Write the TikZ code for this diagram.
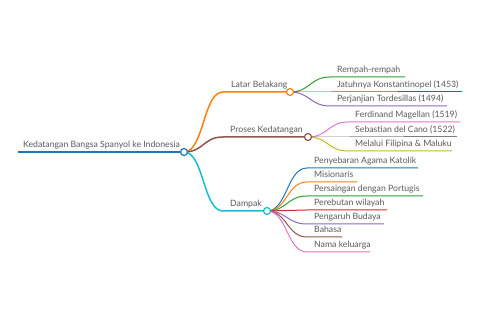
\documentclass[tikz,border=0pt]{standalone}
\usepackage{fontspec}
\setmainfont{Lato}
\usepackage{tikz}
\usetikzlibrary{backgrounds,calc}
\definecolor{cat0}{HTML}{1F77B4}
\definecolor{cat1}{HTML}{FF7F0E}
\definecolor{cat2}{HTML}{2CA02C}
\definecolor{cat3}{HTML}{D62728}
\definecolor{cat4}{HTML}{9467BD}
\definecolor{cat5}{HTML}{8C564B}
\definecolor{cat6}{HTML}{E377C2}
\definecolor{cat7}{HTML}{7F7F7F}
\definecolor{cat8}{HTML}{BCBD22}
\definecolor{cat9}{HTML}{17BECF}
\definecolor{txt}{HTML}{5A5A5A}
\tikzset{
  lbl/.style={font=\fontsize{8.7}{10}\selectfont, text=txt, inner sep=0pt, anchor=base west},
  knot/.style={circle, draw=#1, fill=white, line width=1.2pt, minimum size=7pt, inner sep=0pt},
  stem/.style={draw=#1, line width=1pt},
}
% leaf: name, parent, x start, x end, y, colour, text
\newcommand{\twig}[7]{%
  \coordinate (#1) at (#3,#5);
  \coordinate (#1-end) at (#4,#5);
  \node[lbl] (#1-t) at ([shift={(7,-4)}]#1) {#7};
  \draw[stem=#6] (#2) .. controls +(20,0) and +(-20,0) .. (#1) -- (#1-end);
}

\begin{document}
\begin{tikzpicture}[x=1pt,y=-1pt]
  \useasboundingbox (0,0) rectangle (480,320);
  % root
  \coordinate (root-s) at (18,152);
  \coordinate (root) at (184,152);
  \node[lbl] (root-t) at ([shift={(5,-4)}]root-s) {Kedatangan Bangsa Spanyol ke Indonesia};
  \draw[stem=cat0, line width=2pt] (root-s) -- (root);
  % main branches
  \coordinate (lb-s) at (223,92);   \coordinate (lb) at (290,92);
  \coordinate (pk-s) at (223,137);  \coordinate (pk) at (308,137);
  \coordinate (dp-s) at (223,211);  \coordinate (dp) at (267,211);
  \node[lbl] (lb-t) at ([shift={(8,-4)}]lb-s) {Latar Belakang};
  \node[lbl] (pk-t) at ([shift={(7,-4)}]pk-s) {Proses Kedatangan};
  \node[lbl] (dp-t) at ([shift={(7,-4)}]dp-s) {Dampak};
  \draw[stem=cat1, line width=1.5pt] (root) .. controls +(20,0) and +(-20,0) .. (lb-s) -- (lb);
  \draw[stem=cat5, line width=1.5pt] (root) .. controls +(20,0) and +(-20,0) .. (pk-s) -- (pk);
  \draw[stem=cat9, line width=1.5pt] (root) .. controls +(20,0) and +(-20,0) .. (dp-s) -- (dp);
  % Latar Belakang
  \twig{rr}{lb}{330}{405}{77}{cat2}{Rempah-rempah}
  \twig{jk}{lb}{330}{462}{92}{cat3}{Jatuhnya Konstantinopel (1453)}
  \twig{pt}{lb}{330}{447}{106}{cat4}{Perjanjian Tordesillas (1494)}
  % Proses Kedatangan
  \twig{fm}{pk}{348}{460}{122}{cat6}{Ferdinand Magellan (1519)}
  \twig{sc}{pk}{348}{457}{137}{cat7}{Sebastian del Cano (1522)}
  \twig{fl}{pk}{348}{452}{151}{cat8}{Melalui Filipina \& Maluku}
  % Dampak
  \twig{ak}{dp}{307}{418}{168}{cat0}{Penyebaran Agama Katolik}
  \twig{ms}{dp}{307}{357}{182}{cat1}{Misionaris}
  \twig{pp}{dp}{307}{423}{196}{cat2}{Persaingan dengan Portugis}
  \twig{pw}{dp}{307}{387}{210}{cat3}{Perebutan wilayah}
  \twig{pb}{dp}{307}{384}{224}{cat4}{Pengaruh Budaya}
  \twig{bh}{dp}{307}{342}{237}{cat5}{Bahasa}
  \twig{nk}{dp}{307}{370}{252}{cat6}{Nama keluarga}
  % circles on top
  \node[knot=cat0] (root-k) at (root) {};
  \node[knot=cat1] (lb-k) at (lb) {};
  \node[knot=cat5] (pk-k) at (pk) {};
  \node[knot=cat9] (dp-k) at (dp) {};
\end{tikzpicture}
\end{document}
